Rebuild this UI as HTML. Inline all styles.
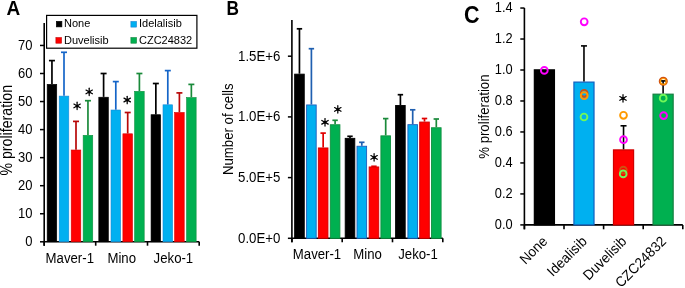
<!DOCTYPE html>
<html><head><meta charset="utf-8"><style>
html,body{margin:0;padding:0;background:#fff;}
body{width:685px;height:288px;overflow:hidden;}
svg{display:block;font-family:"Liberation Sans", sans-serif;will-change:transform;}
</style></head><body>
<svg width="685" height="288" viewBox="0 0 685 288">
<text transform="translate(6.40,15.40) scale(1.0,1.03)" font-size="19.0" text-anchor="start" font-weight="bold" fill="#000" >A</text>
<line x1="44.20" y1="23.00" x2="44.20" y2="245.70" stroke="#000" stroke-width="1.6" />
<line x1="40.00" y1="241.80" x2="44.20" y2="241.80" stroke="#000" stroke-width="1.5" />
<text transform="translate(32.40,246.10) scale(1.0,1.1)" font-size="13" text-anchor="end" font-weight="normal" fill="#000" >0</text>
<line x1="40.00" y1="213.75" x2="44.20" y2="213.75" stroke="#000" stroke-width="1.5" />
<text transform="translate(32.40,218.05) scale(1.0,1.1)" font-size="13" text-anchor="end" font-weight="normal" fill="#000" >10</text>
<line x1="40.00" y1="185.70" x2="44.20" y2="185.70" stroke="#000" stroke-width="1.5" />
<text transform="translate(32.40,190.00) scale(1.0,1.1)" font-size="13" text-anchor="end" font-weight="normal" fill="#000" >20</text>
<line x1="40.00" y1="157.65" x2="44.20" y2="157.65" stroke="#000" stroke-width="1.5" />
<text transform="translate(32.40,161.95) scale(1.0,1.1)" font-size="13" text-anchor="end" font-weight="normal" fill="#000" >30</text>
<line x1="40.00" y1="129.60" x2="44.20" y2="129.60" stroke="#000" stroke-width="1.5" />
<text transform="translate(32.40,133.90) scale(1.0,1.1)" font-size="13" text-anchor="end" font-weight="normal" fill="#000" >40</text>
<line x1="40.00" y1="101.55" x2="44.20" y2="101.55" stroke="#000" stroke-width="1.5" />
<text transform="translate(32.40,105.85) scale(1.0,1.1)" font-size="13" text-anchor="end" font-weight="normal" fill="#000" >50</text>
<line x1="40.00" y1="73.50" x2="44.20" y2="73.50" stroke="#000" stroke-width="1.5" />
<text transform="translate(32.40,77.80) scale(1.0,1.1)" font-size="13" text-anchor="end" font-weight="normal" fill="#000" >60</text>
<line x1="40.00" y1="45.45" x2="44.20" y2="45.45" stroke="#000" stroke-width="1.5" />
<text transform="translate(32.40,49.75) scale(1.0,1.1)" font-size="13" text-anchor="end" font-weight="normal" fill="#000" >70</text>
<line x1="44.20" y1="241.80" x2="199.20" y2="241.80" stroke="#000" stroke-width="1.6" />
<line x1="44.20" y1="241.80" x2="44.20" y2="245.70" stroke="#000" stroke-width="1.6" />
<line x1="95.70" y1="241.80" x2="95.70" y2="245.70" stroke="#000" stroke-width="1.6" />
<line x1="147.50" y1="241.80" x2="147.50" y2="245.70" stroke="#000" stroke-width="1.6" />
<line x1="199.20" y1="241.80" x2="199.20" y2="245.70" stroke="#000" stroke-width="1.6" />
<text transform="translate(11.80,130.30) rotate(-90) scale(1,1.1)" font-size="14.2" text-anchor="middle">% proliferation</text>
<text transform="translate(69.80,262.60) scale(1.0,1.1)" font-size="13.2" text-anchor="middle" font-weight="normal" fill="#000" >Maver-1</text>
<text transform="translate(121.70,262.60) scale(1.0,1.1)" font-size="13.2" text-anchor="middle" font-weight="normal" fill="#000" >Mino</text>
<text transform="translate(173.40,262.60) scale(1.0,1.1)" font-size="13.2" text-anchor="middle" font-weight="normal" fill="#000" >Jeko-1</text>
<rect x="47.15" y="84.30" width="9.60" height="157.50" fill="#000000" stroke="#000" stroke-width="0.6"/>
<line x1="51.95" y1="84.00" x2="51.95" y2="60.60" stroke="#000000" stroke-width="1.7" />
<line x1="48.95" y1="60.60" x2="54.95" y2="60.60" stroke="#000000" stroke-width="1.7" />
<rect x="59.20" y="96.10" width="9.60" height="145.70" fill="#00b0f0" stroke="#1a88d8" stroke-width="0.6"/>
<line x1="64.00" y1="95.80" x2="64.00" y2="52.30" stroke="#1565c8" stroke-width="1.7" />
<line x1="61.00" y1="52.30" x2="67.00" y2="52.30" stroke="#1565c8" stroke-width="1.7" />
<rect x="71.20" y="150.00" width="9.60" height="91.80" fill="#ff0000" stroke="#d80000" stroke-width="0.6"/>
<line x1="76.00" y1="149.70" x2="76.00" y2="121.40" stroke="#b80808" stroke-width="1.7" />
<line x1="73.00" y1="121.40" x2="79.00" y2="121.40" stroke="#b80808" stroke-width="1.7" />
<rect x="83.15" y="135.30" width="9.60" height="106.50" fill="#00b050" stroke="#109040" stroke-width="0.6"/>
<line x1="87.95" y1="135.00" x2="87.95" y2="100.70" stroke="#1a8a3a" stroke-width="1.7" />
<line x1="84.95" y1="100.70" x2="90.95" y2="100.70" stroke="#1a8a3a" stroke-width="1.7" />
<rect x="98.80" y="97.20" width="9.60" height="144.60" fill="#000000" stroke="#000" stroke-width="0.6"/>
<line x1="103.60" y1="96.90" x2="103.60" y2="73.50" stroke="#000000" stroke-width="1.7" />
<line x1="100.60" y1="73.50" x2="106.60" y2="73.50" stroke="#000000" stroke-width="1.7" />
<rect x="111.00" y="110.00" width="9.60" height="131.80" fill="#00b0f0" stroke="#1a88d8" stroke-width="0.6"/>
<line x1="115.80" y1="109.70" x2="115.80" y2="81.60" stroke="#1565c8" stroke-width="1.7" />
<line x1="112.80" y1="81.60" x2="118.80" y2="81.60" stroke="#1565c8" stroke-width="1.7" />
<rect x="122.90" y="133.80" width="9.60" height="108.00" fill="#ff0000" stroke="#d80000" stroke-width="0.6"/>
<line x1="127.70" y1="133.50" x2="127.70" y2="112.50" stroke="#b80808" stroke-width="1.7" />
<line x1="124.70" y1="112.50" x2="130.70" y2="112.50" stroke="#b80808" stroke-width="1.7" />
<rect x="134.60" y="91.30" width="9.60" height="150.50" fill="#00b050" stroke="#109040" stroke-width="0.6"/>
<line x1="139.40" y1="91.00" x2="139.40" y2="73.50" stroke="#1a8a3a" stroke-width="1.7" />
<line x1="136.40" y1="73.50" x2="142.40" y2="73.50" stroke="#1a8a3a" stroke-width="1.7" />
<rect x="151.05" y="114.70" width="9.60" height="127.10" fill="#000000" stroke="#000" stroke-width="0.6"/>
<line x1="155.85" y1="114.40" x2="155.85" y2="83.50" stroke="#000000" stroke-width="1.7" />
<line x1="152.85" y1="83.50" x2="158.85" y2="83.50" stroke="#000000" stroke-width="1.7" />
<rect x="163.00" y="104.80" width="9.60" height="137.00" fill="#00b0f0" stroke="#1a88d8" stroke-width="0.6"/>
<line x1="167.80" y1="104.50" x2="167.80" y2="70.60" stroke="#1565c8" stroke-width="1.7" />
<line x1="164.80" y1="70.60" x2="170.80" y2="70.60" stroke="#1565c8" stroke-width="1.7" />
<rect x="174.60" y="112.50" width="9.60" height="129.30" fill="#ff0000" stroke="#d80000" stroke-width="0.6"/>
<line x1="179.40" y1="112.20" x2="179.40" y2="92.90" stroke="#b80808" stroke-width="1.7" />
<line x1="176.40" y1="92.90" x2="182.40" y2="92.90" stroke="#b80808" stroke-width="1.7" />
<rect x="186.55" y="97.50" width="9.60" height="144.30" fill="#00b050" stroke="#109040" stroke-width="0.6"/>
<line x1="191.35" y1="97.20" x2="191.35" y2="84.40" stroke="#1a8a3a" stroke-width="1.7" />
<line x1="188.35" y1="84.40" x2="194.35" y2="84.40" stroke="#1a8a3a" stroke-width="1.7" />
<line x1="77.10" y1="102.20" x2="77.10" y2="109.60" stroke="#000" stroke-width="1.25" stroke-linecap="round"/>
<line x1="73.90" y1="104.05" x2="80.30" y2="107.75" stroke="#000" stroke-width="1.25" stroke-linecap="round"/>
<line x1="73.90" y1="107.75" x2="80.30" y2="104.05" stroke="#000" stroke-width="1.25" stroke-linecap="round"/>
<circle cx="77.10" cy="105.90" r="1.5" fill="#000"/>
<line x1="89.20" y1="88.20" x2="89.20" y2="95.60" stroke="#000" stroke-width="1.25" stroke-linecap="round"/>
<line x1="86.00" y1="90.05" x2="92.40" y2="93.75" stroke="#000" stroke-width="1.25" stroke-linecap="round"/>
<line x1="86.00" y1="93.75" x2="92.40" y2="90.05" stroke="#000" stroke-width="1.25" stroke-linecap="round"/>
<circle cx="89.20" cy="91.90" r="1.5" fill="#000"/>
<line x1="127.20" y1="96.30" x2="127.20" y2="103.70" stroke="#000" stroke-width="1.25" stroke-linecap="round"/>
<line x1="124.00" y1="98.15" x2="130.40" y2="101.85" stroke="#000" stroke-width="1.25" stroke-linecap="round"/>
<line x1="124.00" y1="101.85" x2="130.40" y2="98.15" stroke="#000" stroke-width="1.25" stroke-linecap="round"/>
<circle cx="127.20" cy="100.00" r="1.5" fill="#000"/>
<rect x="46.60" y="15.40" width="150.30" height="32.80" fill="#fff" stroke="#000" stroke-width="1.2"/>
<rect x="56.30" y="21.30" width="5.60" height="5.60" fill="#000000" stroke="#000" stroke-width="0.6"/>
<text transform="translate(64.00,27.00) scale(1.0,1.0)" font-size="11" text-anchor="start" font-weight="normal" fill="#000" >None</text>
<rect x="130.90" y="21.50" width="5.60" height="5.60" fill="#00b0f0" stroke="#1a80d0" stroke-width="0.6"/>
<text transform="translate(139.00,27.10) scale(1.0,1.0)" font-size="11" text-anchor="start" font-weight="normal" fill="#000" >Idelalisib</text>
<rect x="55.90" y="37.60" width="5.60" height="5.60" fill="#ff0000" stroke="#c00000" stroke-width="0.6"/>
<text transform="translate(64.00,43.60) scale(1.0,1.0)" font-size="11" text-anchor="start" font-weight="normal" fill="#000" >Duvelisib</text>
<rect x="130.90" y="37.60" width="5.60" height="5.60" fill="#00b050" stroke="#0a8038" stroke-width="0.6"/>
<text transform="translate(139.00,43.60) scale(1.0,1.0)" font-size="11" text-anchor="start" font-weight="normal" fill="#000" >CZC24832</text>
<text transform="translate(226.60,15.30) scale(0.91,1.07)" font-size="19.0" text-anchor="start" font-weight="bold" fill="#000" >B</text>
<line x1="291.90" y1="20.00" x2="291.90" y2="242.30" stroke="#000" stroke-width="1.6" />
<line x1="287.90" y1="238.30" x2="291.90" y2="238.30" stroke="#000" stroke-width="1.5" />
<text transform="translate(280.40,242.70) scale(1.0,1.07)" font-size="13.25" text-anchor="end" font-weight="normal" fill="#000" >0.0E+0</text>
<line x1="287.90" y1="177.60" x2="291.90" y2="177.60" stroke="#000" stroke-width="1.5" />
<text transform="translate(280.40,182.00) scale(1.0,1.07)" font-size="13.25" text-anchor="end" font-weight="normal" fill="#000" >5.0E+5</text>
<line x1="287.90" y1="116.90" x2="291.90" y2="116.90" stroke="#000" stroke-width="1.5" />
<text transform="translate(280.40,121.30) scale(1.0,1.07)" font-size="13.25" text-anchor="end" font-weight="normal" fill="#000" >1.0E+6</text>
<line x1="287.90" y1="56.20" x2="291.90" y2="56.20" stroke="#000" stroke-width="1.5" />
<text transform="translate(280.40,60.60) scale(1.0,1.07)" font-size="13.25" text-anchor="end" font-weight="normal" fill="#000" >1.5E+6</text>
<line x1="291.90" y1="238.30" x2="442.80" y2="238.30" stroke="#000" stroke-width="1.6" />
<line x1="291.90" y1="238.30" x2="291.90" y2="242.30" stroke="#000" stroke-width="1.6" />
<line x1="342.20" y1="238.30" x2="342.20" y2="242.30" stroke="#000" stroke-width="1.6" />
<line x1="392.50" y1="238.30" x2="392.50" y2="242.30" stroke="#000" stroke-width="1.6" />
<line x1="442.80" y1="238.30" x2="442.80" y2="242.30" stroke="#000" stroke-width="1.6" />
<text transform="translate(233.40,129.20) rotate(-90) scale(1,1.1)" font-size="13.2" text-anchor="middle">Number of cells</text>
<text transform="translate(317.00,259.00) scale(1.0,1.1)" font-size="13.2" text-anchor="middle" font-weight="normal" fill="#000" >Maver-1</text>
<text transform="translate(367.50,259.00) scale(1.0,1.1)" font-size="13.2" text-anchor="middle" font-weight="normal" fill="#000" >Mino</text>
<text transform="translate(418.00,259.00) scale(1.0,1.1)" font-size="13.2" text-anchor="middle" font-weight="normal" fill="#000" >Jeko-1</text>
<rect x="294.65" y="74.15" width="9.60" height="164.15" fill="#000000" stroke="#000" stroke-width="0.9"/>
<line x1="299.45" y1="73.70" x2="299.45" y2="28.80" stroke="#000000" stroke-width="1.7" />
<line x1="296.75" y1="28.80" x2="302.15" y2="28.80" stroke="#000000" stroke-width="1.7" />
<rect x="306.60" y="104.95" width="9.60" height="133.35" fill="#00b0f0" stroke="#1f5fbf" stroke-width="0.9"/>
<line x1="311.40" y1="104.50" x2="311.40" y2="48.70" stroke="#1f5fb0" stroke-width="1.7" />
<line x1="308.70" y1="48.70" x2="314.10" y2="48.70" stroke="#1f5fb0" stroke-width="1.7" />
<rect x="318.35" y="147.95" width="9.60" height="90.35" fill="#ff0000" stroke="#d00000" stroke-width="0.9"/>
<line x1="323.15" y1="147.50" x2="323.15" y2="133.10" stroke="#e00000" stroke-width="1.7" />
<line x1="320.45" y1="133.10" x2="325.85" y2="133.10" stroke="#e00000" stroke-width="1.7" />
<rect x="330.30" y="124.75" width="9.60" height="113.55" fill="#00b050" stroke="#109040" stroke-width="0.9"/>
<line x1="335.10" y1="124.30" x2="335.10" y2="120.30" stroke="#1a8a3a" stroke-width="1.7" />
<line x1="332.40" y1="120.30" x2="337.80" y2="120.30" stroke="#1a8a3a" stroke-width="1.7" />
<rect x="345.20" y="138.35" width="9.60" height="99.95" fill="#000000" stroke="#000" stroke-width="0.9"/>
<line x1="350.00" y1="137.90" x2="350.00" y2="136.30" stroke="#000000" stroke-width="1.7" />
<line x1="347.30" y1="136.30" x2="352.70" y2="136.30" stroke="#000000" stroke-width="1.7" />
<rect x="357.00" y="146.25" width="9.60" height="92.05" fill="#00b0f0" stroke="#1f5fbf" stroke-width="0.9"/>
<line x1="361.80" y1="145.80" x2="361.80" y2="142.30" stroke="#1f5fb0" stroke-width="1.7" />
<line x1="359.10" y1="142.30" x2="364.50" y2="142.30" stroke="#1f5fb0" stroke-width="1.7" />
<rect x="369.15" y="166.95" width="9.60" height="71.35" fill="#ff0000" stroke="#d00000" stroke-width="0.9"/>
<line x1="373.95" y1="166.50" x2="373.95" y2="166.30" stroke="#e00000" stroke-width="1.7" />
<line x1="371.25" y1="166.30" x2="376.65" y2="166.30" stroke="#e00000" stroke-width="1.7" />
<rect x="380.90" y="135.85" width="9.60" height="102.45" fill="#00b050" stroke="#109040" stroke-width="0.9"/>
<line x1="385.70" y1="135.40" x2="385.70" y2="118.60" stroke="#1a8a3a" stroke-width="1.7" />
<line x1="383.00" y1="118.60" x2="388.40" y2="118.60" stroke="#1a8a3a" stroke-width="1.7" />
<rect x="395.60" y="105.45" width="9.60" height="132.85" fill="#000000" stroke="#000" stroke-width="0.9"/>
<line x1="400.40" y1="105.00" x2="400.40" y2="94.70" stroke="#000000" stroke-width="1.7" />
<line x1="397.70" y1="94.70" x2="403.10" y2="94.70" stroke="#000000" stroke-width="1.7" />
<rect x="407.90" y="124.65" width="9.60" height="113.65" fill="#00b0f0" stroke="#1f5fbf" stroke-width="0.9"/>
<line x1="412.70" y1="124.20" x2="412.70" y2="109.80" stroke="#1f5fb0" stroke-width="1.7" />
<line x1="410.00" y1="109.80" x2="415.40" y2="109.80" stroke="#1f5fb0" stroke-width="1.7" />
<rect x="419.70" y="122.05" width="9.60" height="116.25" fill="#ff0000" stroke="#d00000" stroke-width="0.9"/>
<line x1="424.50" y1="121.60" x2="424.50" y2="118.50" stroke="#e00000" stroke-width="1.7" />
<line x1="421.80" y1="118.50" x2="427.20" y2="118.50" stroke="#e00000" stroke-width="1.7" />
<rect x="431.50" y="127.75" width="9.60" height="110.55" fill="#00b050" stroke="#109040" stroke-width="0.9"/>
<line x1="436.30" y1="127.30" x2="436.30" y2="119.00" stroke="#1a8a3a" stroke-width="1.7" />
<line x1="433.60" y1="119.00" x2="439.00" y2="119.00" stroke="#1a8a3a" stroke-width="1.7" />
<line x1="325.00" y1="118.60" x2="325.00" y2="126.00" stroke="#000" stroke-width="1.25" stroke-linecap="round"/>
<line x1="321.80" y1="120.45" x2="328.20" y2="124.15" stroke="#000" stroke-width="1.25" stroke-linecap="round"/>
<line x1="321.80" y1="124.15" x2="328.20" y2="120.45" stroke="#000" stroke-width="1.25" stroke-linecap="round"/>
<circle cx="325.00" cy="122.30" r="1.5" fill="#000"/>
<line x1="337.80" y1="105.70" x2="337.80" y2="113.10" stroke="#000" stroke-width="1.25" stroke-linecap="round"/>
<line x1="334.60" y1="107.55" x2="341.00" y2="111.25" stroke="#000" stroke-width="1.25" stroke-linecap="round"/>
<line x1="334.60" y1="111.25" x2="341.00" y2="107.55" stroke="#000" stroke-width="1.25" stroke-linecap="round"/>
<circle cx="337.80" cy="109.40" r="1.5" fill="#000"/>
<line x1="374.10" y1="153.70" x2="374.10" y2="161.10" stroke="#000" stroke-width="1.25" stroke-linecap="round"/>
<line x1="370.90" y1="155.55" x2="377.30" y2="159.25" stroke="#000" stroke-width="1.25" stroke-linecap="round"/>
<line x1="370.90" y1="159.25" x2="377.30" y2="155.55" stroke="#000" stroke-width="1.25" stroke-linecap="round"/>
<circle cx="374.10" cy="157.40" r="1.5" fill="#000"/>
<text transform="translate(464.10,22.60) scale(1.0,1.07)" font-size="21.5" text-anchor="start" font-weight="bold" fill="#000" >C</text>
<line x1="524.40" y1="7.90" x2="524.40" y2="229.30" stroke="#000" stroke-width="1.6" />
<line x1="520.30" y1="224.90" x2="524.40" y2="224.90" stroke="#000" stroke-width="1.5" />
<text transform="translate(512.60,229.10) scale(1.0,1.1)" font-size="12.8" text-anchor="end" font-weight="normal" fill="#000" >0.0</text>
<line x1="520.30" y1="193.92" x2="524.40" y2="193.92" stroke="#000" stroke-width="1.5" />
<text transform="translate(512.60,198.12) scale(1.0,1.1)" font-size="12.8" text-anchor="end" font-weight="normal" fill="#000" >0.2</text>
<line x1="520.30" y1="162.94" x2="524.40" y2="162.94" stroke="#000" stroke-width="1.5" />
<text transform="translate(512.60,167.14) scale(1.0,1.1)" font-size="12.8" text-anchor="end" font-weight="normal" fill="#000" >0.4</text>
<line x1="520.30" y1="131.96" x2="524.40" y2="131.96" stroke="#000" stroke-width="1.5" />
<text transform="translate(512.60,136.16) scale(1.0,1.1)" font-size="12.8" text-anchor="end" font-weight="normal" fill="#000" >0.6</text>
<line x1="520.30" y1="100.98" x2="524.40" y2="100.98" stroke="#000" stroke-width="1.5" />
<text transform="translate(512.60,105.18) scale(1.0,1.1)" font-size="12.8" text-anchor="end" font-weight="normal" fill="#000" >0.8</text>
<line x1="520.30" y1="70.00" x2="524.40" y2="70.00" stroke="#000" stroke-width="1.5" />
<text transform="translate(512.60,74.20) scale(1.0,1.1)" font-size="12.8" text-anchor="end" font-weight="normal" fill="#000" >1.0</text>
<line x1="520.30" y1="39.02" x2="524.40" y2="39.02" stroke="#000" stroke-width="1.5" />
<text transform="translate(512.60,43.22) scale(1.0,1.1)" font-size="12.8" text-anchor="end" font-weight="normal" fill="#000" >1.2</text>
<line x1="520.30" y1="8.04" x2="524.40" y2="8.04" stroke="#000" stroke-width="1.5" />
<text transform="translate(512.60,12.24) scale(1.0,1.1)" font-size="12.8" text-anchor="end" font-weight="normal" fill="#000" >1.4</text>
<line x1="524.40" y1="224.90" x2="682.80" y2="224.90" stroke="#000" stroke-width="1.6" />
<line x1="524.40" y1="224.90" x2="524.40" y2="229.30" stroke="#000" stroke-width="1.6" />
<line x1="564.00" y1="224.90" x2="564.00" y2="229.30" stroke="#000" stroke-width="1.6" />
<line x1="603.60" y1="224.90" x2="603.60" y2="229.30" stroke="#000" stroke-width="1.6" />
<line x1="643.20" y1="224.90" x2="643.20" y2="229.30" stroke="#000" stroke-width="1.6" />
<line x1="682.80" y1="224.90" x2="682.80" y2="229.30" stroke="#000" stroke-width="1.6" />
<text transform="translate(489.00,116.60) rotate(-90) scale(1,1.1)" font-size="13.2" text-anchor="middle">% proliferation</text>
<rect x="534.35" y="69.85" width="20.10" height="155.05" fill="#000000" stroke="#000" stroke-width="1.2"/>
<rect x="573.92" y="82.10" width="20.10" height="142.80" fill="#00b0f0" stroke="#1060c0" stroke-width="1.2"/>
<line x1="583.97" y1="81.50" x2="583.97" y2="45.90" stroke="#000" stroke-width="1.6" />
<line x1="580.97" y1="45.90" x2="586.97" y2="45.90" stroke="#000" stroke-width="1.6" />
<rect x="613.49" y="149.90" width="20.10" height="75.00" fill="#ff0000" stroke="#d00000" stroke-width="1.2"/>
<line x1="623.54" y1="149.30" x2="623.54" y2="125.80" stroke="#000" stroke-width="1.6" />
<line x1="620.54" y1="125.80" x2="626.54" y2="125.80" stroke="#000" stroke-width="1.6" />
<rect x="653.06" y="94.20" width="20.10" height="130.70" fill="#00b050" stroke="#148040" stroke-width="1.2"/>
<line x1="663.11" y1="93.60" x2="663.11" y2="80.90" stroke="#000" stroke-width="1.6" />
<line x1="660.11" y1="80.90" x2="666.11" y2="80.90" stroke="#000" stroke-width="1.6" />
<circle cx="544.30" cy="70.40" r="3.4" fill="none" stroke="#ff00ff" stroke-width="1.9"/>
<circle cx="584.20" cy="21.80" r="3.4" fill="none" stroke="#ff00ff" stroke-width="1.9"/>
<circle cx="584.20" cy="93.30" r="3.4" fill="none" stroke="#d05010" stroke-width="1.9"/>
<circle cx="584.20" cy="95.70" r="3.4" fill="none" stroke="#ff9a00" stroke-width="1.9"/>
<circle cx="584.00" cy="117.00" r="3.4" fill="none" stroke="#70f858" stroke-width="1.9"/>
<circle cx="623.50" cy="115.30" r="3.4" fill="none" stroke="#ff9a00" stroke-width="1.9"/>
<circle cx="623.50" cy="139.70" r="3.4" fill="none" stroke="#ff00ff" stroke-width="1.9"/>
<circle cx="623.30" cy="170.10" r="3.4" fill="none" stroke="#d05010" stroke-width="1.9"/>
<circle cx="623.20" cy="173.90" r="3.4" fill="none" stroke="#70f858" stroke-width="1.9"/>
<circle cx="663.30" cy="81.20" r="3.6" fill="none" stroke="#d05010" stroke-width="1.9"/>
<circle cx="663.30" cy="81.40" r="2.9" fill="none" stroke="#ff9a00" stroke-width="1.2"/>
<circle cx="663.20" cy="98.20" r="3.4" fill="none" stroke="#70f858" stroke-width="1.9"/>
<circle cx="663.60" cy="115.60" r="3.4" fill="none" stroke="#ff00ff" stroke-width="1.9"/>
<line x1="623.00" y1="94.70" x2="623.00" y2="102.10" stroke="#000" stroke-width="1.25" stroke-linecap="round"/>
<line x1="619.80" y1="96.55" x2="626.20" y2="100.25" stroke="#000" stroke-width="1.25" stroke-linecap="round"/>
<line x1="619.80" y1="100.25" x2="626.20" y2="96.55" stroke="#000" stroke-width="1.25" stroke-linecap="round"/>
<circle cx="623.00" cy="98.40" r="1.5" fill="#000"/>
<text transform="translate(548.20,242.20) rotate(-45) scale(1,1.05)" font-size="13.5" text-anchor="end">None</text>
<text transform="translate(587.80,242.20) rotate(-45) scale(1,1.05)" font-size="13.5" text-anchor="end">Idealisib</text>
<text transform="translate(627.40,242.20) rotate(-45) scale(1,1.05)" font-size="13.5" text-anchor="end">Duvelisib</text>
<text transform="translate(667.00,242.20) rotate(-45) scale(1,1.05)" font-size="13.5" text-anchor="end">CZC24832</text>
</svg>
</body></html>
